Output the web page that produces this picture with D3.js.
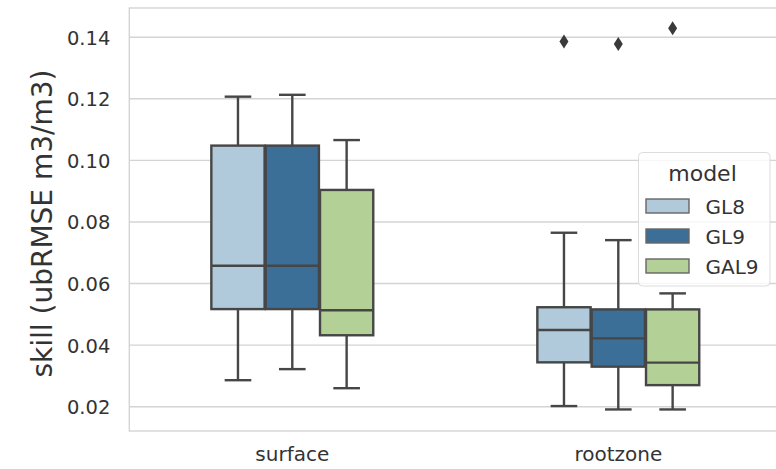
<!DOCTYPE html>
<html>
<head>
<meta charset="utf-8">
<script src="https://cdn.jsdelivr.net/npm/d3@7"></script>
<style>
  body { margin: 0; background: #fff; }
  text { font-family: "DejaVu Sans", sans-serif; fill: #333; }
</style>
</head>
<body>
<div id="chart"></div>
<script>
// categories and hue levels
var categories = ["surface", "rootzone"];
var models = ["GL8", "GL9", "GAL9"];
var colors = ["#b1cadb", "#3b6f98", "#b3d196"];
var yTicks = [0.02, 0.04, 0.06, 0.08, 0.10, 0.12, 0.14];

// box stats per model, one entry per category: [whisker low, q1, median, q3, whisker high]
var statsGL8  = [[0.0286, 0.0517, 0.0658, 0.1048, 0.1207], [0.0202, 0.0344, 0.0449, 0.0523, 0.0765]];
var statsGL9  = [[0.0322, 0.0517, 0.0658, 0.1048, 0.1213], [0.0191, 0.0330, 0.0422, 0.0516, 0.0741]];
var statsGAL9 = [[0.0260, 0.0432, 0.0513, 0.0904, 0.1066], [0.0191, 0.0270, 0.0343, 0.0516, 0.0568]];

// outliers per model, one list per category
var fliersGL8  = [[], [0.1386]];
var fliersGL9  = [[], [0.1378]];
var fliersGAL9 = [[], [0.1429]];

var allStats = [statsGL8, statsGL9, statsGAL9];
var allFliers = [fliersGL8, fliersGL9, fliersGAL9];

var width = 776, height = 469;
var margin = {top: 8, left: 129.3, bottom: 431, right: 781.3};

var svg = d3.select("#chart").append("svg")
    .attr("width", width)
    .attr("height", height);

// Scales
var x = d3.scaleBand()
    .domain(categories)
    .range([margin.left, margin.right]);

var hue = d3.scaleBand()
    .domain(models)
    .range([-x.bandwidth() * 0.25, x.bandwidth() * 0.25]);

var y = d3.scaleLinear()
    .domain([0.0121, 0.1495])
    .range([margin.bottom, margin.top]);

var lineColor = "#464646";

// grid lines
svg.append("g")
    .selectAll("line")
    .data(yTicks)
    .enter().append("line")
    .attr("x1", margin.left)
    .attr("x2", margin.right)
    .attr("y1", function(d) { return y(d); })
    .attr("y2", function(d) { return y(d); })
    .attr("stroke", "#d4d4d4")
    .attr("stroke-width", 1.4);

// frame
svg.append("rect")
    .attr("x", margin.left)
    .attr("y", margin.top)
    .attr("width", margin.right - margin.left)
    .attr("height", margin.bottom - margin.top)
    .attr("fill", "none")
    .attr("stroke", "#d4d4d4")
    .attr("stroke-width", 1.4);

// Y axis
var yAxis = svg.append("g")
    .attr("transform", "translate(" + (margin.left - 19) + ",0)")
    .call(d3.axisLeft(y).tickValues(yTicks).tickSize(0).tickPadding(0)
        .tickFormat(d3.format(".2f")));
yAxis.select(".domain").remove();
yAxis.selectAll("text")
    .style("font-size", "19.5px")
    .attr("fill", "#333")
    .attr("dy", "0.36em");

// X axis
var xAxis = svg.append("g")
    .attr("transform", "translate(0," + margin.bottom + ")")
    .call(d3.axisBottom(x).tickSize(0).tickPadding(16));
xAxis.select(".domain").remove();
xAxis.selectAll("text")
    .style("font-size", "20px")
    .attr("fill", "#333");

// Y label
svg.append("text")
    .attr("transform", "translate(52," + ((margin.top + margin.bottom) / 2 + 4) + ") rotate(-90)")
    .attr("text-anchor", "middle")
    .style("font-size", "28px")
    .text("skill (ubRMSE m3/m3)");

// boxes
var boxW = hue.bandwidth() * 0.98;
models.forEach(function(m, mi) {
    categories.forEach(function(c, ci) {
        var s = allStats[mi][ci];
        var cx = x(c) + x.bandwidth() / 2 + hue(m) + hue.bandwidth() / 2;
        var g = svg.append("g");

        // whiskers
        g.append("line")
            .attr("x1", cx).attr("x2", cx)
            .attr("y1", y(s[0])).attr("y2", y(s[1]))
            .attr("stroke", lineColor).attr("stroke-width", 2.4);
        g.append("line")
            .attr("x1", cx).attr("x2", cx)
            .attr("y1", y(s[3])).attr("y2", y(s[4]))
            .attr("stroke", lineColor).attr("stroke-width", 2.4);
        [s[0], s[4]].forEach(function(v) {
            g.append("line")
                .attr("x1", cx - boxW / 4).attr("x2", cx + boxW / 4)
                .attr("y1", y(v)).attr("y2", y(v))
                .attr("stroke", lineColor).attr("stroke-width", 2.4);
        });

        // box
        g.append("rect")
            .attr("x", cx - boxW / 2)
            .attr("y", y(s[3]))
            .attr("width", boxW)
            .attr("height", y(s[1]) - y(s[3]))
            .attr("fill", colors[mi])
            .attr("stroke", lineColor)
            .attr("stroke-width", 2.4);

        // median
        g.append("line")
            .attr("x1", cx - boxW / 2).attr("x2", cx + boxW / 2)
            .attr("y1", y(s[2])).attr("y2", y(s[2]))
            .attr("stroke", lineColor).attr("stroke-width", 2.4);

        // outliers (thin diamonds)
        g.selectAll("path.flier")
            .data(allFliers[mi][ci])
            .enter().append("path")
            .attr("class", "flier")
            .attr("d", function(v) {
                var py = y(v);
                return "M" + cx + "," + (py - 7) + "L" + (cx + 4.5) + "," + py +
                    "L" + cx + "," + (py + 7) + "L" + (cx - 4.5) + "," + py + "Z";
            })
            .attr("fill", "#3a3a3a");
    });
});

// Legend
var legend = svg.append("g").attr("transform", "translate(638.5,152.5)");
legend.append("rect")
    .attr("width", 131.5)
    .attr("height", 133.5)
    .attr("rx", 4)
    .attr("fill", "rgba(255,255,255,0.8)")
    .attr("stroke", "#dcdcdc")
    .attr("stroke-width", 1);
legend.append("text")
    .attr("x", 64)
    .attr("y", 28)
    .attr("text-anchor", "middle")
    .style("font-size", "22px")
    .text("model");
models.forEach(function(m, i) {
    legend.append("rect")
        .attr("x", 7.5)
        .attr("y", 46.5 + i * 30)
        .attr("width", 43)
        .attr("height", 14)
        .attr("fill", colors[i])
        .attr("stroke", "#666")
        .attr("stroke-width", 1.4);
    legend.append("text")
        .attr("x", 67)
        .attr("y", 61 + i * 30.3)
        .style("font-size", "20px")
        .text(m);
});
</script>
</body>
</html>
